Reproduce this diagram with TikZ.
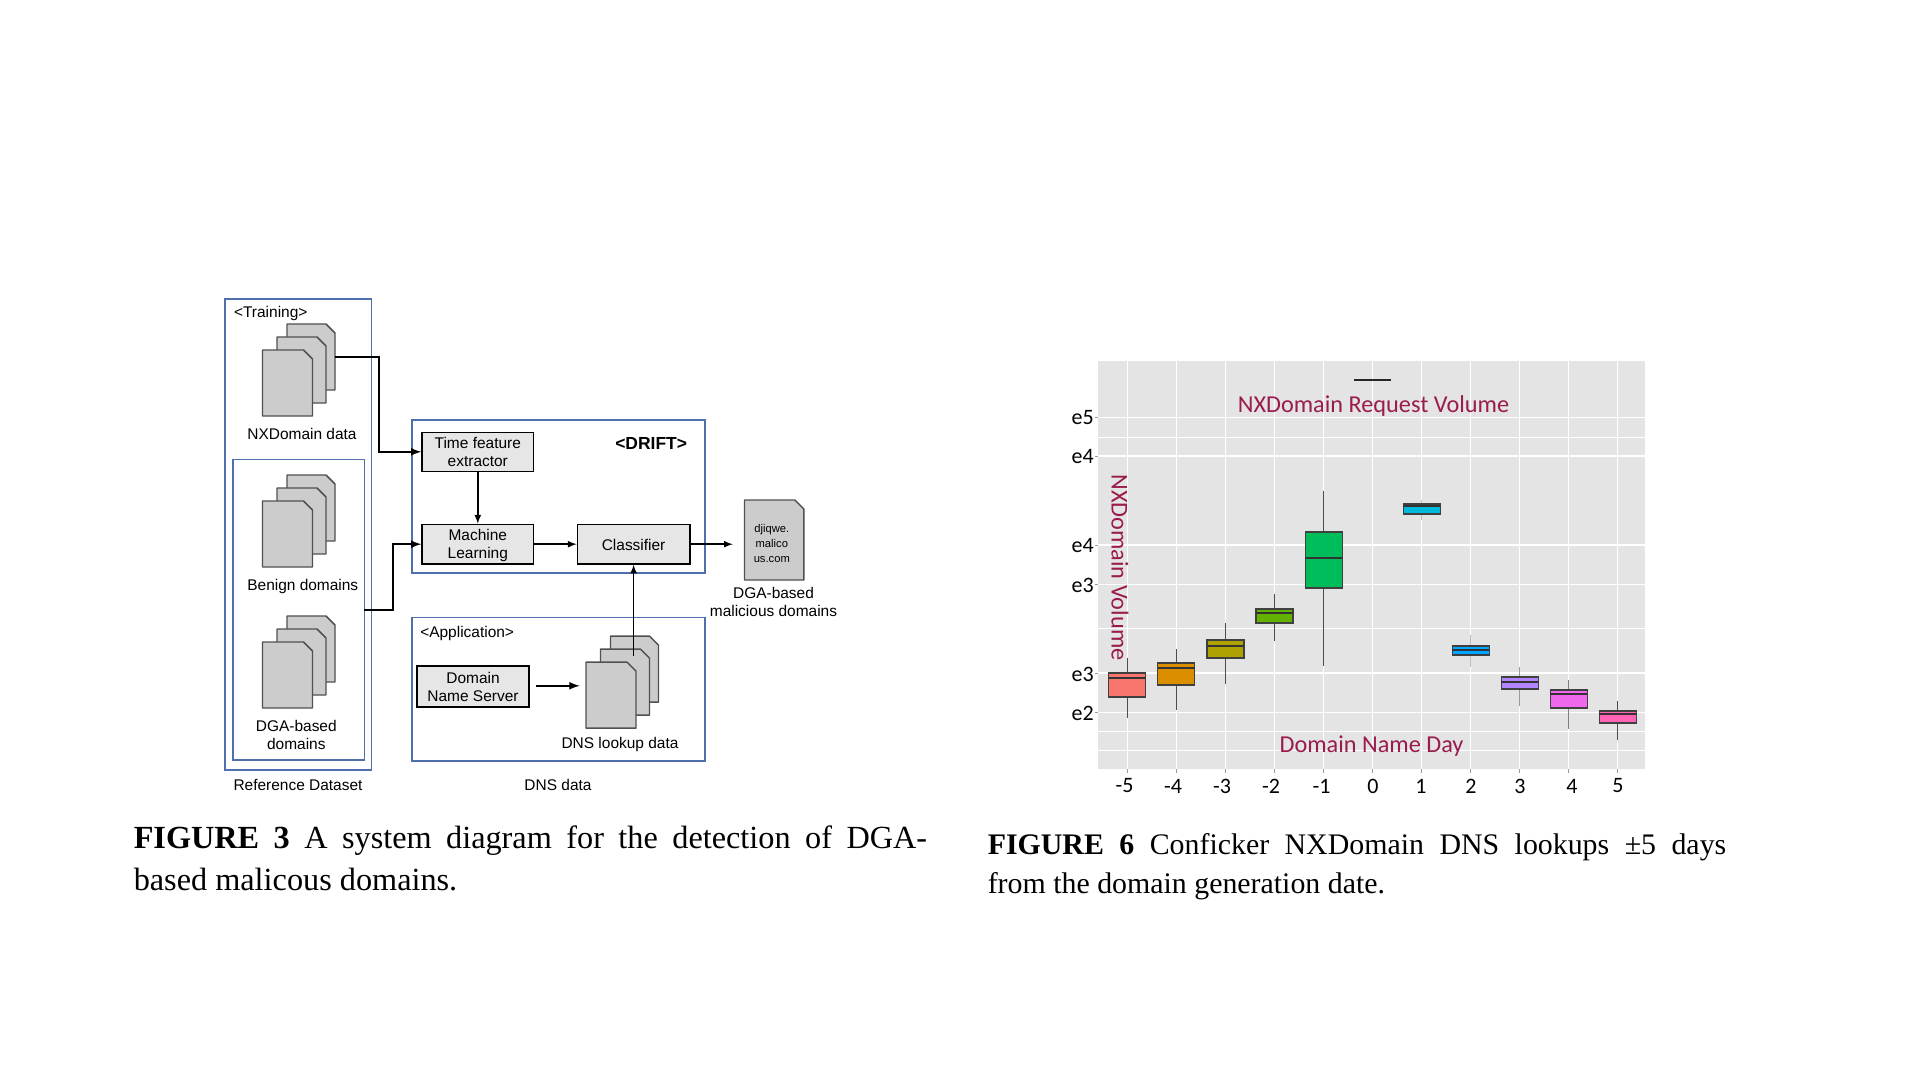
\documentclass[tikz,border=0pt]{standalone}
\usepackage{fontspec}
\setmainfont{Liberation Sans}
\newfontfamily\capfont{Liberation Serif}
\newfontfamily\plotfont{Carlito}
\definecolor{panelblue}{HTML}{4F6FAD}
\definecolor{sheetgray}{HTML}{CDCCCC}
\definecolor{sheetedge}{HTML}{505050}
\definecolor{procgray}{HTML}{E6E6E6}
\definecolor{plotgray}{HTML}{E4E4E4}
\definecolor{plotred}{HTML}{9A1B4E}
\definecolor{dayA}{HTML}{F8766D}
\definecolor{dayB}{HTML}{DB8E00}
\definecolor{dayC}{HTML}{AEA200}
\definecolor{dayD}{HTML}{64B200}
\definecolor{dayE}{HTML}{00BD5C}
\definecolor{dayF}{HTML}{00BADE}
\definecolor{dayG}{HTML}{00A6FF}
\definecolor{dayH}{HTML}{B385FF}
\definecolor{dayI}{HTML}{EF67EB}
\definecolor{dayJ}{HTML}{FF63B6}
\tikzset{
  boxsize/.style 2 args={minimum width=#1*0.75pt,minimum height=#2*0.75pt},
  panel/.style={draw=panelblue,line width=1.2pt,inner sep=0pt},
  proc/.style={draw=black,line width=1.1pt,fill=procgray,inner sep=0pt,align=center,font=\fontsize{11.6}{13.5}\selectfont},
  lab/.style={inner sep=0pt,align=center,font=\fontsize{11.6}{13.5}\selectfont},
  sheet/.style={draw=sheetedge,line width=1.1pt,fill=sheetgray,line join=round},
  flow/.style={black,line width=1.25pt,-latex},
  heavyflow/.style={black,line width=1.6pt,-latex},
  major/.style={white,line width=1pt},
  minor/.style={white,line width=0.55pt},
  tick/.style={gray!80,line width=0.6pt},
  ticklab/.style={inner sep=0pt,font=\plotfont\fontsize{16.5}{18}\selectfont},
  plotlab/.style={inner sep=0pt,text=plotred,font=\plotfont\fontsize{18.2}{20}\selectfont},
  caption/.style={anchor=north west,inner sep=0pt,align=justify}
}
\begin{document}
\begin{tikzpicture}[x=0.75pt,y=-0.75pt]

\newcommand{\mysheet}[4]{% x, y, largeur, hauteur
\draw[sheet] (#1,#2) -- (#1+#3-9,#2) -- (#1+#3,#2+9) -- (#1+#3,#2+#4) -- (#1,#2+#4) -- cycle;
}
\newcommand{\mystack}[2]{% x, y de la feuille avant
\mysheet{#1+24.5}{#2-26}{48}{66}
\mysheet{#1+14.5}{#2-13}{49}{66}
\mysheet{#1}{#2}{50}{66}
}

\useasboundingbox (0,0) rectangle (1920,1080);

%reference dataset
\node[panel,boxsize={146.2}{471}] (refbox) at (298.3,534.5) {};
\node[panel,boxsize={131.4}{300.5}] (labelbox) at (298.7,609.7) {};
\node[lab,anchor=west] (training) at (233.8,314) {<Training>};
\mystack{262.5}{350}
\coordinate (nxdata) at (335,357.4);
\node[lab] (nxlab) at (302,434) {NXDomain data};
\mystack{262.5}{501}
\coordinate (domainsout) at (364.4,609.8);
\node[lab] (benignlab) at (302.8,586) {Benign domains};
\mystack{262.5}{642}
\node[lab] (dgalab) at (296.3,735.2) {DGA-based\\domains};
\node[lab] (reflab) at (298,785) {Reference Dataset};

%drift
\node[panel,boxsize={293.3}{153}] (driftbox) at (558.4,496.5) {};
\node[lab,font=\bfseries\fontsize{13.1}{15}\selectfont] (driftlab) at (651.2,443) {<DRIFT>};
\node[proc,boxsize={111.6}{39}] (timebox) at (477.8,451.8) {Time feature\\extractor};
\node[proc,boxsize={111.6}{39.5},text depth=0pt] (mlbox) at (477.8,544.2) {Machine\\Learning};
\node[proc,boxsize={112.4}{39.5},text height=10pt] (classifier) at (633.6,544.2) {Classifier};

%application
\node[panel,boxsize={293.3}{143.7}] (appbox) at (558.4,689.2) {};
\node[lab,anchor=west] (applab) at (420,633.4) {<Application>};
\node[proc,boxsize={112}{40.6}] (dnsserver) at (473,686.5) {Domain\\Name Server};
\mystack{586}{662.2}
\coordinate (dnsdata) at (633.6,655.5);
\coordinate (dnsout) at (536.2,685.8);
\coordinate (dnsin) at (579.6,685.8);
\node[lab] (dnslab) at (620,744.2) {DNS lookup data};
\node[lab] (dnsdatalab) at (558,785) {DNS data};

%malicious domains
\mysheet{744.5}{500}{59.4}{80}
\coordinate (resultin) at (732.8,544.2);
\node[lab,font=\fontsize{8.4}{11.25}\selectfont] (resulttext) at (771.8,543.7) {djiqwe.\\malico\\us.com};
\node[lab] (resultlab) at (773.5,601.9) {DGA-based\\malicious domains};

%connectors
\draw[heavyflow] (nxdata) -- ++(44.2,0) |- (timebox.west);
\draw[heavyflow] (domainsout) -- ++(28.6,0) |- (mlbox.west);
\draw[flow] (timebox) -- (mlbox);
\draw[flow] (mlbox) -- (classifier);
\draw[flow] (classifier) -- (resultin);
\draw[flow] (dnsdata) -- (classifier.south);
\draw[heavyflow] (dnsout) -- (dnsin);

%plot background
\fill[plotgray] (1098,361) rectangle (1645,769);
%horizontal grid
\foreach \gy in {456,545,673} {
  \draw[major] (1098,\gy) -- (1645,\gy);
}
\foreach \gy in {417,437,584,628,712,731,750} {
  \draw[minor] (1098,\gy) -- (1645,\gy);
}
%vertical grid and day labels
\foreach \i/\lx in {-5/1124.5,-4/1173,-3/1222,-2/1271,-1/1321.5,0/1373,1/1421,2/1471,3/1520,4/1572,5/1618} {
  \draw[minor,line width={abs(\i)==1 ? 0.9pt : 0.7pt}] (1372.6+49.05*\i,361) -- (1372.6+49.05*\i,769);
  \draw[tick] (1372.6+49.05*\i,769) -- (1372.6+49.05*\i,773);
  \node[ticklab] (day\i) at (\lx,786) {\i};
}
%volume labels
\foreach \gy/\lab/\n in {417/e5/a,456/e4/b,545/e4/c,584/e3/d,673/e3/e,712/e2/f} {
  \draw[tick] (1095,\gy) -- (1098,\gy);
  \node[ticklab,anchor=east] (vol\n) at (1094,\gy+1) {\lab};
}
%boxes: day, whisker top, whisker bottom, box top, box bottom, median, fill, whisker colour
\foreach \i/\wt/\wb/\qt/\qb/\md/\col/\wc in {
  -5/658/718/673/697/678/dayA/black!70,
  -4/649/710/663/685/668/dayB/black!70,
  -3/623/684/640/658/646/dayC/black!70,
  -2/594/641/609/623/613/dayD/black!70,
  -1/491/666/532/588/558/dayE/black!70,
  1/500/520/504/514/506/dayF/black!25,
  2/635/667/646/655/650/dayG/black!25,
  3/667/706/677/689/682/dayH/black!40,
  4/680/729/690/708/694/dayI/black!50,
  5/701/740/711/723/714/dayJ/black!70} {
  \draw[\wc,line width=0.6pt] (1372.6+49.05*\i,\wt) -- (1372.6+49.05*\i,\wb);
  \draw[fill=\col,draw=black!75,line width=0.85pt] (1372.6+49.05*\i-18.5,\qt) rectangle (1372.6+49.05*\i+18.5,\qb);
  \draw[black!80,line width=1.8pt] (1372.6+49.05*\i-18.5,\md) -- (1372.6+49.05*\i+18.5,\md);
}
%legend line
\coordinate (keyleft) at (1354,380);
\coordinate (keyright) at (1391,380);
\draw[black!85,line width=1.4pt] (keyleft) -- (keyright);
%plot titles
\node[plotlab] (plottitle) at (1373.5,406) {NXDomain Request Volume};
\node[plotlab] (daylab) at (1371.5,746.5) {Domain Name Day};
\node[plotlab,rotate=-90] (vollab) at (1120,567.5) {NXDomain Volume};

%captions
\node[caption,text width=595pt,font=\capfont\fontsize{24.2}{31}\selectfont] (capthree) at (133.5,826)
  {\textbf{FIGURE 3} A system diagram for the detection of DGA-\linebreak based malicous domains.};
\node[caption,text width=553.9pt,font=\capfont\fontsize{22.4}{29.25}\selectfont] (capsix) at (987.5,833)
  {\textbf{FIGURE 6} Conficker NXDomain DNS lookups ±5 days\linebreak from the domain generation date.};

\end{tikzpicture}
\end{document}
